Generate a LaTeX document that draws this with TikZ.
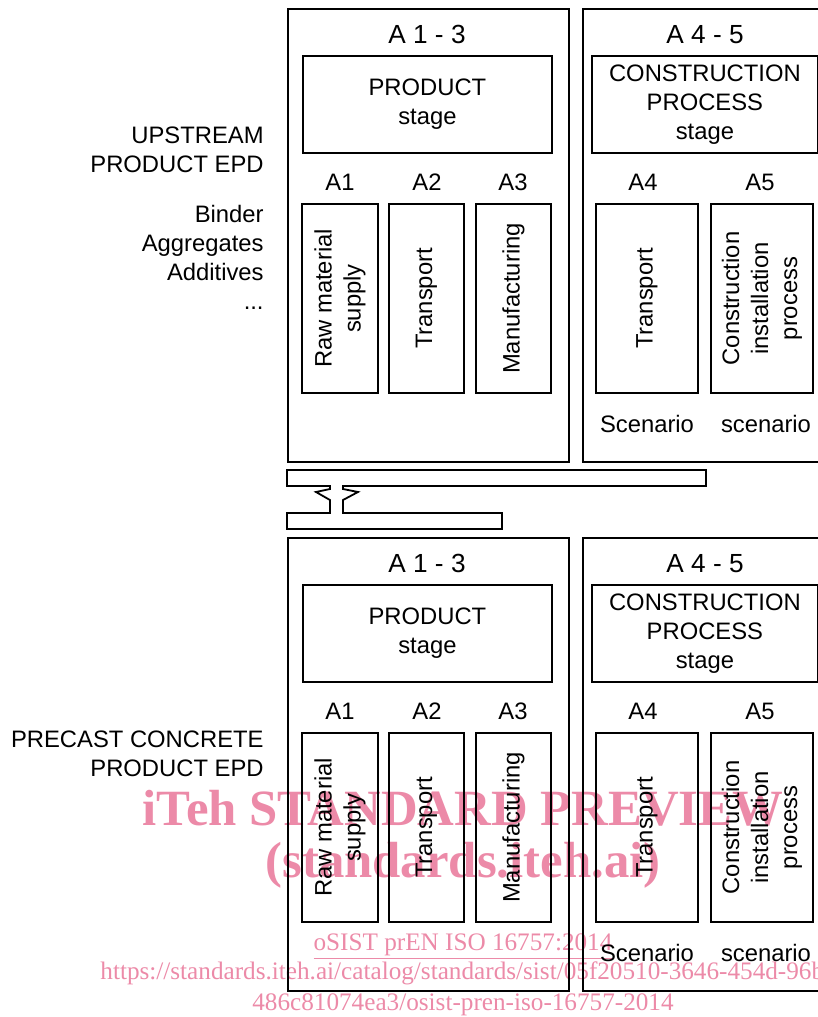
\documentclass[tikz,border=0pt]{standalone}
\usepackage{fontspec}
\setmainfont{Liberation Sans}
\newfontfamily\wmfont{Liberation Serif}
\usetikzlibrary{positioning}
\definecolor{epdink}{HTML}{000000}
\definecolor{epdmark}{HTML}{EC8AA8}
\tikzset{
  every picture/.style={font=\fontsize{11.9}{14.5}\selectfont,text=epdink},
  wh/.style 2 args={minimum width=#1*0.5pt,minimum height=#2*0.5pt},
  stagebox/.style={draw=epdink,line width=0.9pt,inner sep=0pt,align=center},
  modbox/.style={stagebox,rotate=90},
  blocktitle/.style={anchor=base,font=\fontsize{13.1}{15}\selectfont},
  sidelabel/.style={anchor=east,align=right,inner sep=0pt},
  link/.style={draw=epdink,line width=0.9pt,line join=miter},
  mark big/.style={text=epdmark,font=\wmfont\bfseries\fontsize{25.4}{30}\selectfont,anchor=base,inner sep=0pt},
  mark small/.style={text=epdmark,font=\wmfont\fontsize{12.6}{15}\selectfont,anchor=base,inner sep=0pt},
}
\begin{document}
\begin{tikzpicture}[x=0.5pt,y=-0.5pt]
  \useasboundingbox (0,0) rectangle (818,1017);
  \clip (0,0) rectangle (818,1017);
  % preview stamp sits under the diagram
  \node[mark big] (stamp1) at (463,825) {iTeh STANDARD PREVIEW};
  \node[mark big] (stamp2) at (463,877) {(standards.iteh.ai)};
  \node[mark small] (stamp3) at (463,950) {\underline{oSIST prEN ISO 16757:2014}};
  \node[mark small,anchor=base west] (stamp4) at (100,979)
    {https://standards.iteh.ai/catalog/standards/sist/05f20510-3646-454d-96b9-};
  \node[mark small] (stamp5) at (463,1010) {486c81074ea3/osist-pren-iso-16757-2014};
  % two identical module blocks, upstream EPD on top
  \foreach \dy/\tag in {0/up,529/pc}{
    \begin{scope}[shift={(0,\dy)}]
      \node[stagebox,anchor=north west,wh={281}{453}] (a13\tag) at (287,8) {};
      \node[blocktitle] (t13\tag) at (427,43) {A 1 - 3};
      \node[stagebox,anchor=north west,wh={249}{97}] (prod\tag) at (302,55) {PRODUCT\\stage};
      \node[anchor=base] (lA1\tag) at (340,190) {A1};
      \node[anchor=base] (lA2\tag) at (427,190) {A2};
      \node[anchor=base] (lA3\tag) at (513,190) {A3};
      \node[modbox,wh={189}{76}] (mA1\tag) at (340,298.5) {Raw material\\supply};
      \node[modbox,wh={189}{75}] (mA2\tag) at (426.5,298.5) {Transport};
      \node[modbox,wh={189}{75}] (mA3\tag) at (513.5,298.5) {Manufacturing};
      \node[stagebox,anchor=north west,wh={260}{453}] (a45\tag) at (582,8) {};
      \node[blocktitle] (t45\tag) at (705,43) {A 4 - 5};
      \node[stagebox,anchor=north west,wh={226}{97}] (cons\tag) at (591,55)
        {CONSTRUCTION\\PROCESS\\stage};
      \node[anchor=base] (lA4\tag) at (643,190) {A4};
      \node[anchor=base] (lA5\tag) at (760,190) {A5};
      \node[modbox,wh={189}{102}] (mA4\tag) at (647,298.5) {Transport};
      \node[modbox,wh={189}{102}] (mA5\tag) at (762,298.5) {Construction\\installation\\process};
      \node[anchor=base] (sc4\tag) at (647,432) {Scenario};
      \node[anchor=base] (sc5\tag) at (766,432) {scenario};
    \end{scope}
  }
  \node[sidelabel] (upepd) at (264,150) {UPSTREAM\\PRODUCT EPD};
  \node[sidelabel] (inputs) at (264,257) {Binder\\Aggregates\\Additives\\...};
  \node[sidelabel] (pcepd) at (264,754) {PRECAST CONCRETE\\PRODUCT EPD};
  % rail between the blocks with the dovetail joint
  \draw[link] (287,470) -- (706,470) -- (706,486) -- (343,486) -- (343,489)
    -- (358,492) -- (343,500) -- (343,513) -- (502,513) -- (502,529)
    -- (287,529) -- (287,513) -- (330,513) -- (330,500) -- (316,492)
    -- (330,489) -- (330,486) -- (287,486) -- cycle;
\end{tikzpicture}
\end{document}
